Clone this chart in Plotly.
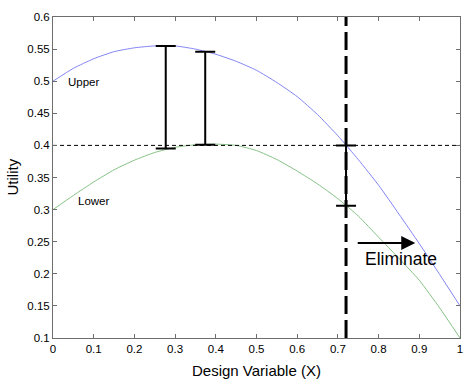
import plotly.graph_objects as go

# ---- data ----
x_vals = [0.0, 0.05, 0.1, 0.15, 0.2, 0.25, 0.3, 0.35, 0.4, 0.45, 0.5,
          0.55, 0.6, 0.65, 0.7, 0.75, 0.8, 0.85, 0.9, 0.95, 1.0]
upper_vals = [0.500, 0.520, 0.535, 0.546, 0.552, 0.555, 0.555, 0.550, 0.542, 0.531, 0.517,
              0.498, 0.476, 0.448, 0.415, 0.378, 0.338, 0.293, 0.247, 0.199, 0.150]
lower_vals = [0.300, 0.322, 0.343, 0.362, 0.377, 0.389, 0.397, 0.401, 0.402, 0.400, 0.392,
              0.378, 0.360, 0.340, 0.317, 0.290, 0.257, 0.224, 0.190, 0.147, 0.100]

bar_x = [0.277, 0.374, 0.72]
bar_top = [0.555, 0.546, 0.400]
bar_bottom = [0.395, 0.401, 0.306]

threshold = 0.4
elim_x = 0.72
arrow_start = 0.745
arrow_end = 0.89
arrow_y = 0.248

x_ticks = [0, 0.1, 0.2, 0.3, 0.4, 0.5, 0.6, 0.7, 0.8, 0.9, 1]
x_tick_text = ["0", "0.1", "0.2", "0.3", "0.4", "0.5", "0.6", "0.7", "0.8", "0.9", "1"]
y_ticks = [0.1, 0.15, 0.2, 0.25, 0.3, 0.35, 0.4, 0.45, 0.5, 0.55, 0.6]
y_tick_text = ["0.1", "0.15", "0.2", "0.25", "0.3", "0.35", "0.4", "0.45", "0.5", "0.55", "0.6"]

FONT = "Liberation Sans, Arial, Helvetica, sans-serif"

fig = go.Figure()

fig.add_trace(go.Scatter(x=x_vals, y=upper_vals, mode="lines",
                         line=dict(color="#8484f4", width=1, shape="spline", smoothing=0.5),
                         showlegend=False, hoverinfo="skip"))
fig.add_trace(go.Scatter(x=x_vals, y=lower_vals, mode="lines",
                         line=dict(color="#86c286", width=1, shape="spline", smoothing=0.5),
                         showlegend=False, hoverinfo="skip"))

# threshold line
fig.add_trace(go.Scatter(x=[x_ticks[0], x_ticks[-1]], y=[threshold, threshold], mode="lines",
                         line=dict(color="black", width=1, dash="4px,3px"),
                         showlegend=False, hoverinfo="skip"))
# elimination line
fig.add_trace(go.Scatter(x=[elim_x, elim_x], y=[y_ticks[0], y_ticks[-1]], mode="lines",
                         line=dict(color="black", width=3, dash="18px,6px"),
                         showlegend=False, hoverinfo="skip"))

# interval bars
mids = [(t + b) / 2 for t, b in zip(bar_top, bar_bottom)]
halves = [(t - b) / 2 for t, b in zip(bar_top, bar_bottom)]
fig.add_trace(go.Scatter(x=bar_x, y=mids, mode="markers",
                         marker=dict(size=1, opacity=0),
                         error_y=dict(type="data", array=halves, symmetric=True,
                                      color="black", thickness=2, width=10),
                         showlegend=False, hoverinfo="skip"))

fig.add_annotation(x=arrow_end, y=arrow_y, ax=arrow_start, ay=arrow_y,
                   xref="x", yref="y", axref="x", ayref="y", text="",
                   showarrow=True, arrowhead=2, arrowsize=1.4, arrowwidth=2,
                   arrowcolor="black")
fig.add_annotation(x=0.854, y=0.223, xref="x", yref="y", text="Eliminate",
                   showarrow=False, font=dict(family=FONT, size=17.5, color="black"))
fig.add_annotation(x=0.033, y=0.498, xref="x", yref="y", text="Upper", xanchor="left",
                   showarrow=False, font=dict(family=FONT, size=11.5, color="black"))
fig.add_annotation(x=0.057, y=0.313, xref="x", yref="y", text="Lower", xanchor="left",
                   showarrow=False, font=dict(family=FONT, size=11.5, color="black"))

# axis titles
fig.add_annotation(x=0.5, y=0, xref="paper", yref="paper", yshift=-32, yanchor="middle",
                   text="Design Variable (X)", showarrow=False,
                   font=dict(family=FONT, size=15, color="black"))
fig.add_annotation(x=0, y=0.5, xref="paper", yref="paper", xshift=-41, xanchor="center",
                   text="Utility", textangle=-90, showarrow=False,
                   font=dict(family=FONT, size=15, color="black"))

axis_common = dict(showgrid=False, zeroline=False, showline=True, linecolor="#6e6e6e",
                   linewidth=1, mirror="ticks", ticks="inside", ticklen=4,
                   tickcolor="#6e6e6e", tickfont=dict(family=FONT, size=11.5, color="black"))

fig.update_xaxes(range=[0, 1], tickvals=x_ticks, ticktext=x_tick_text, **axis_common)
fig.update_yaxes(range=[0.1, 0.6], tickvals=y_ticks, ticktext=y_tick_text, **axis_common)

fig.update_layout(width=474, height=386, margin=dict(l=53, r=11, t=13, b=48),
                  paper_bgcolor="white", plot_bgcolor="white", showlegend=False)

# remove the default page margin so the figure sits at the window's top-left corner
fig.write_html("out.html", config={"displayModeBar": False},
               post_script="document.body.style.margin='0px';document.body.style.overflow='hidden';")
